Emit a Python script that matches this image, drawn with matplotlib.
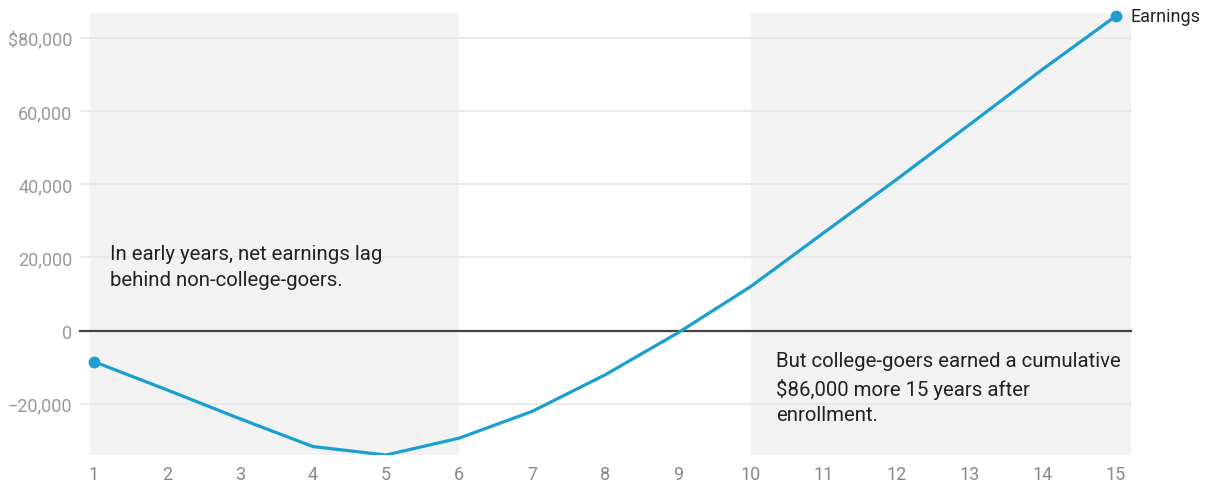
import matplotlib.pyplot as plt

# Cumulative net earnings of college-goers vs. non-college-goers, by year
years = [1, 2, 3, 4, 5, 6, 7, 8, 9, 10, 11, 12, 13, 14, 15]
earnings = [-8500, -16200, -24100, -31700, -34000, -29400, -22100, -12100,
            -600, 12100, 26800, 41400, 56400, 71500, 86000]

y_ticks = [-20000, 0, 20000, 40000, 60000, 80000]
y_tick_labels = ["\u221220,000", "0", "20,000", "40,000", "60,000", "$80,000"]

note_early = "In early years, net earnings lag\nbehind non-college-goers."
note_late = "But college-goers earned a cumulative\n$86,000 more 15 years after\nenrollment."

plt.rcParams['font.family'] = ['Roboto', 'DejaVu Sans']

line_color = "#1a9fd0"
shade = "#f2f2f2"
grid_color = "#e6e6e6"
tick_color = "#999999"

fig = plt.figure(figsize=(12.06, 4.85), dpi=100)
ax = fig.add_axes([90 / 1206, 29 / 485, 1041 / 1206, 442 / 485])

x_lo, x_hi = 0.945, 15.205
ax.set_xlim(x_lo, x_hi)
ax.set_ylim(-34000, 86800)

# shaded phases
ax.axvspan(x_lo, 6, color=shade, lw=0, zorder=0)
ax.axvspan(10, x_hi, color=shade, lw=0, zorder=0)

ax.set_yticks(y_ticks)
ax.set_yticklabels(y_tick_labels)
ax.set_xticks(years)
ax.grid(axis='y', color=grid_color, lw=1.2, zorder=1)
ax.axhline(0, color="#444444", lw=1.6, zorder=2, xmin=-10 / 1041, clip_on=False)

ax.tick_params(axis='y', length=7.2, width=1.2, color=grid_color, pad=5.5,
               labelsize=13, labelcolor=tick_color)
ax.tick_params(axis='x', length=0, pad=7, labelsize=13, labelcolor="#888888")
for s in ax.spines.values():
    s.set_visible(False)

ax.plot(years, earnings, color=line_color, lw=2.3, zorder=3, solid_joinstyle='round')
ax.plot([years[0], years[-1]], [earnings[0], earnings[-1]], 'o', color=line_color,
        ms=7.5, zorder=4, clip_on=False)

ax.text(15.2, earnings[-1], "Earnings", va='center', ha='left', fontsize=13,
        color="#222222", clip_on=False)
ax.text(1.22, 23600, note_early, va='top', ha='left', fontsize=14.7,
        color="#222222", linespacing=1.45)
ax.text(10.34, -5600, note_late, va='top', ha='left', fontsize=14.7,
        color="#222222", linespacing=1.45)

fig.savefig("out.png", dpi=100, facecolor="white")
